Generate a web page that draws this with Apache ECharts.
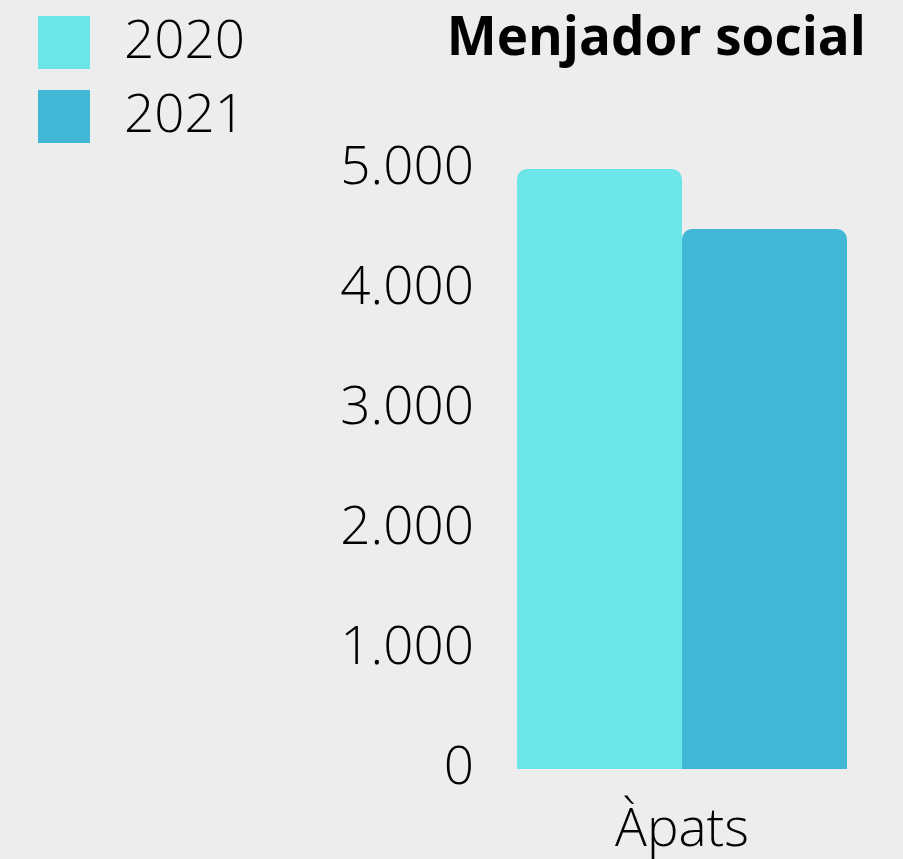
<!DOCTYPE html>
<html><head><meta charset="utf-8">
<script src="https://cdn.jsdelivr.net/npm/echarts@6/dist/echarts.min.js"></script>
<style>html,body{margin:0;padding:0;background:#ededed}#c{width:903px;height:859px}</style>
</head><body><div id="c"></div>
<script>
const categories = ['Àpats'];
const seriesNames = ['2020', '2021'];
const values2020 = [5000];
const values2021 = [4500];
const colors = ['#6ce5e8', '#42b7d6'];
const titleText = 'Menjador social';

const chart = echarts.init(document.getElementById('c'));
const font = '"Open Sans", sans-serif';
chart.setOption({
  backgroundColor: '#ededed',
  animation: false,
  title: {
    text: titleText, right: 37, top: 10, padding: 0,
    textStyle: {fontFamily: font, fontSize: 53, fontWeight: 'bold', color: '#000', lineHeight: 60}
  },
  legend: {
    orient: 'vertical', left: 38, top: 16, padding: 0,
    itemWidth: 52, itemHeight: 53, itemGap: 21, icon: 'rect',
    data: seriesNames,
    textStyle: {fontFamily: font, fontSize: 53, fontWeight: 300, color: '#000', padding: [8, 0, 0, 29]}
  },
  grid: {left: 517, right: 56, top: 169, bottom: 88, containLabel: false},
  xAxis: {
    type: 'category', data: categories,
    axisLine: {show: false}, axisTick: {show: false},
    axisLabel: {fontFamily: font, fontSize: 53, fontWeight: 300, color: '#000', margin: 34, lineHeight: 56}
  },
  yAxis: {
    type: 'value', min: 0, max: 5000, interval: 1000,
    splitLine: {show: false}, axisLine: {show: false}, axisTick: {show: false},
    axisLabel: {
      fontFamily: font, fontSize: 53, fontWeight: 300, color: '#000', margin: 43, padding: [8, 0, 0, 0],
      formatter: v => v.toLocaleString('de-DE')
    }
  },
  series: [
    {name: seriesNames[0], type: 'bar', data: values2020, barGap: '0%', barCategoryGap: '0%',
     itemStyle: {color: colors[0], borderRadius: [10, 10, 0, 0]}},
    {name: seriesNames[1], type: 'bar', data: values2021, barGap: '0%', barCategoryGap: '0%',
     itemStyle: {color: colors[1], borderRadius: [10, 10, 0, 0]}}
  ]
});
</script></body></html>
